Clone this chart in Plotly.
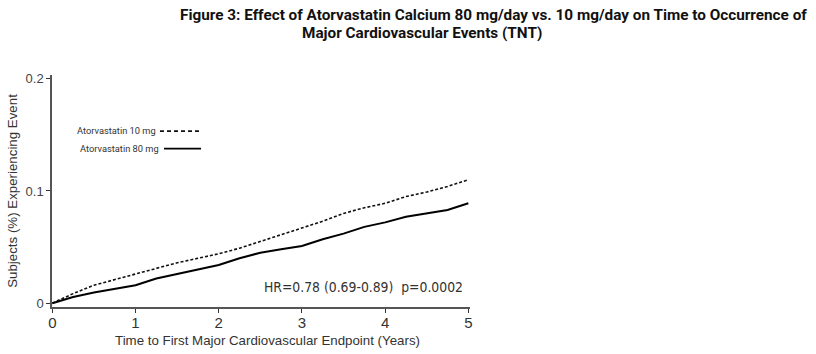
import plotly.graph_objects as go

years = [0, 0.25, 0.5, 0.75, 1.0, 1.25, 1.5, 1.75, 2.0, 2.25, 2.5, 2.75,
         3.0, 3.25, 3.5, 3.75, 4.0, 4.25, 4.5, 4.75, 5.0]
atorva_10 = [0, 0.0085, 0.016, 0.021, 0.026, 0.031, 0.036, 0.040, 0.044, 0.049,
             0.055, 0.061, 0.067, 0.073, 0.080, 0.085, 0.089, 0.095, 0.099, 0.104, 0.110]
atorva_80 = [0, 0.0055, 0.0095, 0.013, 0.016, 0.022, 0.026, 0.030, 0.034, 0.040,
             0.045, 0.048, 0.051, 0.057, 0.062, 0.068, 0.072, 0.077, 0.080, 0.083, 0.089]
x_ticks = [0, 1, 2, 3, 4, 5]
y_ticks = [0, 0.1, 0.2]
y_tick_labels = ["0", "0.1", "0.2"]

title1 = "Figure 3: Effect of Atorvastatin Calcium 80 mg/day vs. 10 mg/day on Time to Occurrence of"
title2 = "Major Cardiovascular Events (TNT)"

TXT = "#333333"
COND = "DejaVu Sans Condensed, sans-serif"
ROBOTO = "Roboto, Liberation Sans, sans-serif"
SANS = "Liberation Sans, Arial, sans-serif"

fig = go.Figure()
fig.add_trace(go.Scatter(x=years, y=atorva_10, mode="lines", name="Atorvastatin 10 mg",
                         line=dict(color="#111111", width=1.6, dash="3px,2px"),
                         showlegend=False))
fig.add_trace(go.Scatter(x=years, y=atorva_80, mode="lines", name="Atorvastatin 80 mg",
                         line=dict(color="#000000", width=2),
                         showlegend=False))

fig.update_layout(
    width=816, height=354,
    margin=dict(l=52, r=346, t=75, b=47),
    paper_bgcolor="white", plot_bgcolor="white",
    font=dict(family=SANS, color=TXT),
    xaxis=dict(range=[-0.004, 5.02], tickvals=x_ticks, ticks="outside", ticklen=4,
               tickcolor="#333", showline=True, linecolor="#555", linewidth=1.5,
               showgrid=False, zeroline=False, tickfont=dict(size=15, color=TXT),
               ticklabelstandoff=-3),
    yaxis=dict(range=[-0.0034, 0.2033], tickvals=y_ticks, ticktext=y_tick_labels,
               ticks="outside", ticklen=4, tickcolor="#333", showline=True,
               linecolor="#555", linewidth=1.5, showgrid=False, zeroline=False,
               tickfont=dict(size=13, color="#444"),
               title=dict(text="Subjects (%) Experiencing Event",
                          font=dict(size=13.3, color=TXT), standoff=5)),
)

fig.add_annotation(text="Time to First Major Cardiovascular Endpoint (Years)",
                   xref="paper", yref="paper", x=(267 - 52) / 418, y=-(340 - 306.5) / 231.5,
                   xanchor="center", yanchor="middle", showarrow=False,
                   font=dict(family=SANS, size=13.3, color=TXT))

fig.add_annotation(text="<b>" + title1 + "</b>", xref="paper", yref="paper",
                   x=(493 - 52) / 418, y=1 + (75 - 15) / 231.5, xanchor="center", yanchor="middle",
                   showarrow=False, font=dict(family=ROBOTO, size=15.3, color="#111"))
fig.add_annotation(text="<b>" + title2 + "</b>", xref="paper", yref="paper",
                   x=(422 - 52) / 418, y=1 + (75 - 33) / 231.5, xanchor="center", yanchor="middle",
                   showarrow=False, font=dict(family=ROBOTO, size=15.3, color="#111"))

# legend (text left of sample line)
fig.add_annotation(text="Atorvastatin 10 mg", xref="paper", yref="paper",
                   x=(158 - 52) / 418, y=1 - (130 - 75) / 231.5, xanchor="right", yanchor="middle",
                   showarrow=False, font=dict(family=ROBOTO, size=9.3, color=TXT))
fig.add_annotation(text="Atorvastatin 80 mg", xref="paper", yref="paper",
                   x=(161 - 52) / 418, y=1 - (148 - 75) / 231.5, xanchor="right", yanchor="middle",
                   showarrow=False, font=dict(family=ROBOTO, size=9.3, color=TXT))
fig.add_shape(type="line", xref="paper", yref="paper",
              x0=(160 - 52) / 418, x1=(200 - 52) / 418,
              y0=1 - (131 - 75) / 231.5, y1=1 - (131 - 75) / 231.5,
              line=dict(color="#111", width=1.8, dash="4px,3px"))
fig.add_shape(type="line", xref="paper", yref="paper",
              x0=(164 - 52) / 418, x1=(201 - 52) / 418,
              y0=1 - (148.5 - 75) / 231.5, y1=1 - (148.5 - 75) / 231.5,
              line=dict(color="#000", width=1.8))

fig.add_annotation(text="HR=0.78 (0.69-0.89)  p=0.0002", xref="paper", yref="paper",
                   x=(465 - 52) / 418, y=1 - (287 - 75) / 231.5, xanchor="right", yanchor="middle",
                   showarrow=False, font=dict(family=COND, size=13.8, color=TXT))

fig.write_html("out.html")
